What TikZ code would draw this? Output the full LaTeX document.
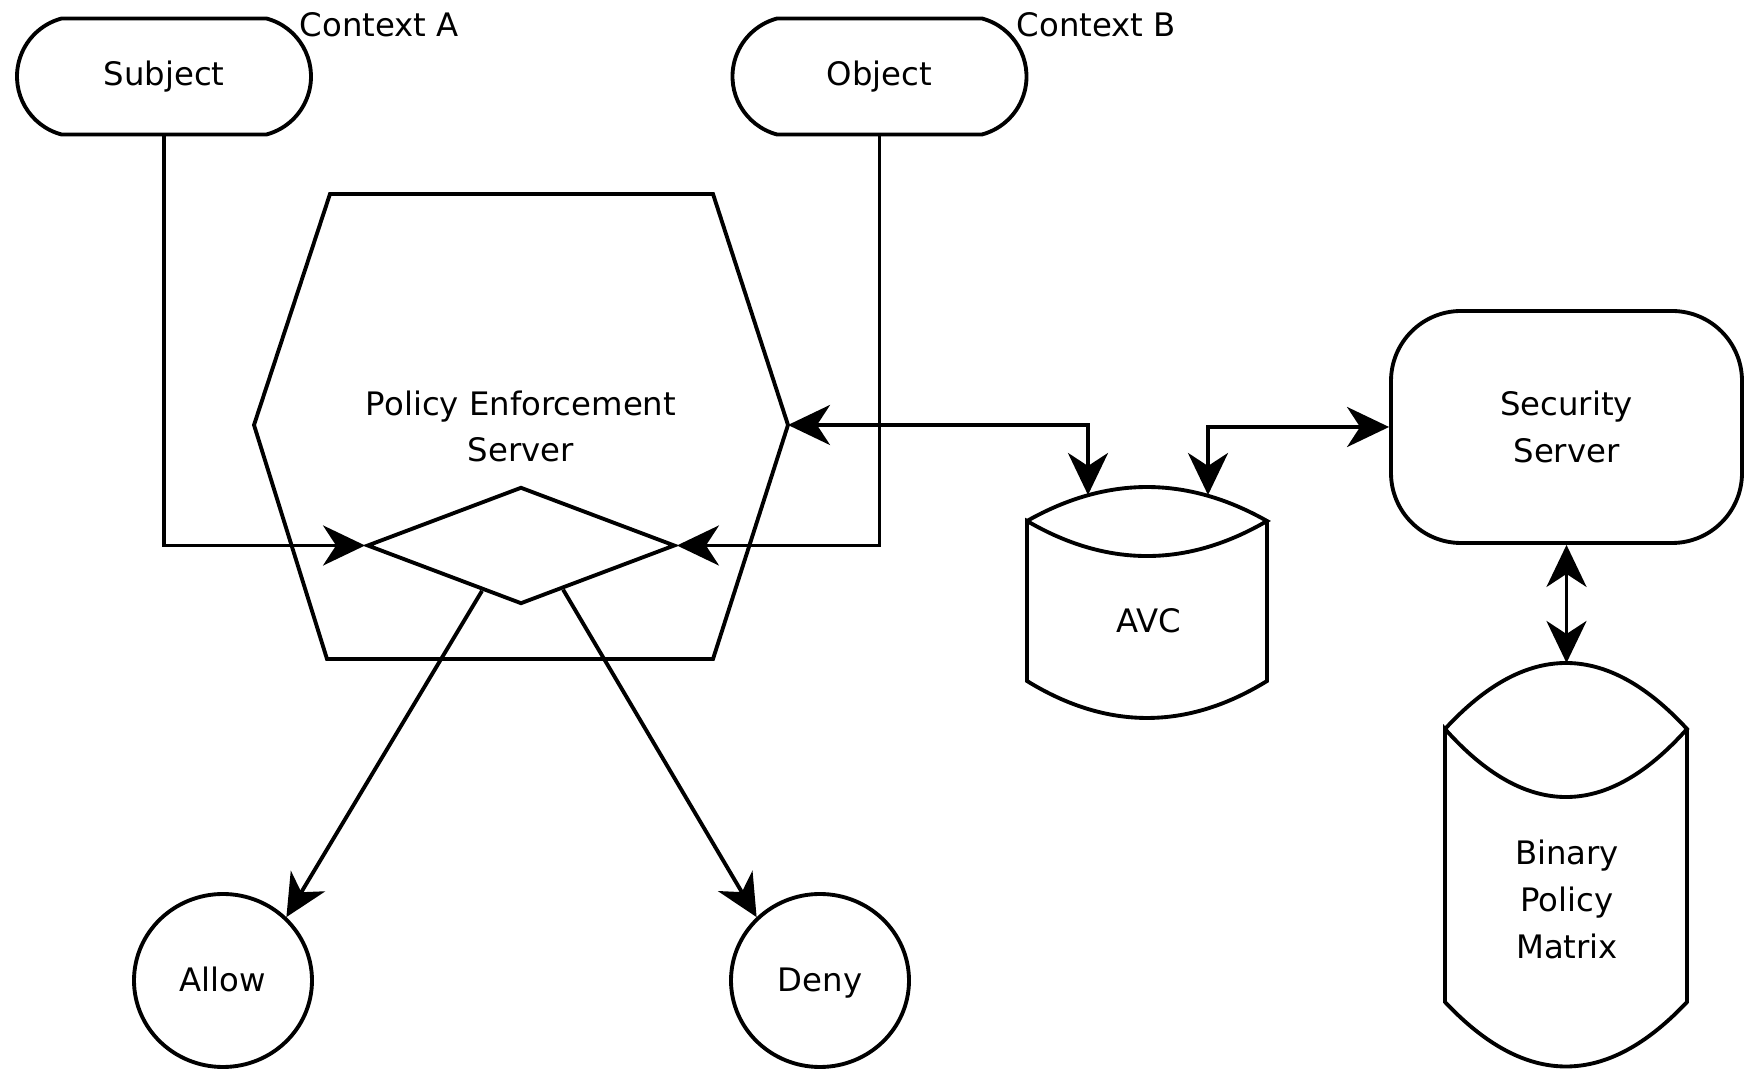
\documentclass[tikz,border=0pt]{standalone}
\usepackage{fontspec}
\setmainfont{DejaVu Sans}
\usepackage{tikz}
\usetikzlibrary{shapes,arrows.meta,positioning,calc}

\begin{document}
\begin{tikzpicture}[
    line width=1.1pt,
    every node/.style={font=\fontsize{9.2}{13.3}\selectfont},
    terminal/.style={rounded rectangle, rounded rectangle arc length=150, draw, minimum width=2.94cm, minimum height=1.16cm, inner sep=0pt},
    server/.style={rectangle, rounded corners=0.7cm, draw, minimum width=3.51cm, minimum height=2.32cm, align=center},
    result/.style={ellipse, draw, minimum width=1.78cm, minimum height=1.73cm, inner sep=0pt, text height=1.6ex, text depth=0.5ex},
    arrow/.style={-{Stealth[length=4.2mm, width=4mm, inset=1.3mm]}},
    biarrow/.style={{Stealth[length=4.2mm, width=4mm, inset=1.3mm]}-{Stealth[length=4.2mm, width=4mm, inset=1.3mm]}}
]
    \useasboundingbox (0,0) rectangle (17.46,-10.69);

    % Subject and object
    \node[terminal] (subject) at (1.64,-0.765) {Subject};
    \node[terminal] (object) at (8.795,-0.765) {Object};
    \node[anchor=west, inner sep=0pt] (ctxA) at (2.98,-0.25) {Context A};
    \node[anchor=west, inner sep=0pt] (ctxB) at (10.15,-0.25) {Context B};

    % Policy enforcement server
    \draw (3.30,-1.94) -- (7.13,-1.94) -- (7.88,-4.25) coordinate (pesE) -- (7.13,-6.59) -- (3.27,-6.59) -- (2.54,-4.25) -- cycle;
    \node[align=center] (pes) at (5.21,-4.265) {Policy Enforcement\\Server};
    \node[diamond, draw, minimum width=3.08cm, minimum height=1.17cm, inner sep=0pt] (dec) at (5.21,-5.455) {};

    % Decisions
    \node[result] (allow) at (2.23,-9.805) {Allow};
    \node[result] (deny) at (8.20,-9.805) {Deny};

    % AVC
    \draw (10.27,-5.21) .. controls (11.07,-4.757) and (11.87,-4.757) .. (12.67,-5.21)
          .. controls (11.87,-5.677) and (11.07,-5.677) .. (10.27,-5.21) -- (10.27,-6.81)
          .. controls (11.07,-7.303) and (11.87,-7.303) .. (12.67,-6.81) -- (12.67,-5.21);
    \node (avc) at (11.49,-6.21) {AVC};
    \coordinate (avcL) at (10.88,-4.95);
    \coordinate (avcR) at (12.08,-4.95);

    % Security server and policy matrix
    \node[server] (security) at (15.665,-4.27) {Security\\Server};
    \draw (14.45,-7.29) .. controls (15.26,-6.41) and (16.06,-6.41) .. (16.87,-7.29)
          .. controls (16.06,-8.197) and (15.26,-8.197) .. (14.45,-7.29) -- (14.45,-10.02)
          .. controls (15.26,-10.88) and (16.06,-10.88) .. (16.87,-10.02) -- (16.87,-7.29);
    \node[align=center] (bpm) at (15.67,-8.995) {Binary\\Policy\\Matrix};
    \coordinate (bpmN) at (15.665,-6.63);

    % Connections
    \draw[arrow] (subject.south) |- (dec.west);
    \draw[arrow] (object.south) |- (dec.east);
    \draw[biarrow] (pesE) -| (avcL);
    \draw[biarrow] (avcR) |- (security.west);
    \draw[biarrow] (security.south) -- (bpmN);
    \draw[arrow] ($(dec.west)!0.75!(dec.south)$) -- (allow.45);
    \draw[arrow] ($(dec.south)!0.27!(dec.east)$) -- (deny.135);
\end{tikzpicture}
\end{document}
